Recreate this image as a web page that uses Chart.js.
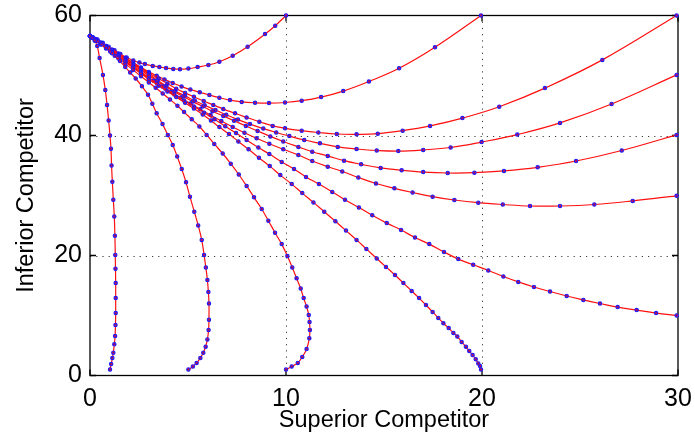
<!DOCTYPE html>
<html>
<head>
<meta charset="utf-8">
<title>Competition phase plane</title>
<script src="https://cdn.jsdelivr.net/npm/chart.js@4.4.1/dist/chart.umd.min.js"></script>
<style>
  html, body { margin: 0; padding: 0; background: #fff; }
  canvas { display: block; }
</style>
</head>
<body>
<canvas id="phaseChart" width="695" height="439"></canvas>
<script>
// axis ticks
const xTicks = [0, 10, 20, 30];
const yTicks = [0, 20, 40, 60];

// trajectories, [superior, inferior], from the initial state towards the equilibrium
const trajA = [[1.02,1.0],[1.08,1.9],[1.14,2.9],[1.19,3.8],[1.24,5.2],[1.28,6.6],[1.30,8.4],[1.31,10.4],[1.31,12.9],[1.31,15.4],[1.30,17.8],[1.29,20.1],[1.27,23.3],[1.24,26.5],[1.19,29.3],[1.14,32.3],[1.10,35.0],[1.07,37.8],[1.02,40.0],[0.95,42.5],[0.87,45.1],[0.78,47.6],[0.66,50.1],[0.49,52.9],[0.37,54.9],[0.24,55.8],[0.1,56.3],[0,56.6]];
const trajB = [[5.02,1.0],[5.25,1.5],[5.44,2.1],[5.63,2.9],[5.78,3.8],[5.9,4.8],[5.99,6.0],[6.05,7.6],[6.07,9.3],[6.07,12.0],[6.04,13.9],[5.99,15.9],[5.91,18.0],[5.82,20.1],[5.7,22.6],[5.52,25.0],[5.32,27.3],[5.1,29.8],[4.9,32.2],[4.68,34.4],[4.45,36.5],[4.22,38.4],[3.97,40.1],[3.7,41.9],[3.4,43.7],[3.18,45.3],[2.96,46.8],[2.65,48.2],[2.33,49.5],[2.05,50.5],[1.8,51.4],[1.53,52.4],[1.26,53.3],[1.03,54.0],[0.83,54.6],[0.6,55.2],[0.41,55.7],[0.2,56.15],[0,56.6]];
const trajC = [[10.0,1.0],[10.29,1.5],[10.6,2.1],[10.83,3.1],[11.05,4.4],[11.19,6.2],[11.22,7.6],[11.2,8.9],[11.16,10.1],[11.05,11.5],[10.9,12.9],[10.75,14.5],[10.54,16.2],[10.32,18.0],[10.07,19.9],[9.78,21.9],[9.44,23.8],[9.1,25.8],[8.76,27.75],[8.37,29.7],[7.99,31.6],[7.59,33.5],[7.18,35.3],[6.77,37.0],[6.34,38.6],[5.95,40.1],[5.58,41.5],[5.19,42.7],[4.8,43.9],[4.46,44.95],[4.08,46.0],[3.71,47.0],[3.35,47.95],[3.0,48.85],[2.6,49.88],[2.2,50.92],[1.8,51.95],[1.45,52.85],[1.12,53.71],[0.82,54.48],[0.55,55.18],[0.3,55.83],[0.12,56.29],[0,56.6]];
const trajD = [[19.95,1.0],[19.9,1.6],[19.81,2.0],[19.68,2.7],[19.52,3.4],[19.35,4.1],[19.18,4.8],[18.96,5.6],[18.74,6.5],[18.54,7.1],[18.3,7.9],[18.03,8.7],[17.77,9.6],[17.48,10.6],[17.14,11.75],[16.79,12.9],[16.41,14.1],[15.99,15.4],[15.56,16.75],[15.1,18.1],[14.63,19.5],[14.1,21.1],[13.6,22.6],[13.06,24.15],[12.52,25.7],[11.95,27.3],[11.4,28.85],[10.83,30.4],[10.29,31.9],[9.71,33.4],[9.17,34.9],[8.62,36.3],[8.09,37.7],[7.57,39.0],[7.09,40.25],[6.6,41.4],[6.17,42.5],[5.75,43.5],[5.3,44.5],[4.85,45.45],[4.4,46.4],[3.95,47.35],[3.5,48.3],[3.0,49.35],[2.6,50.32],[2.2,51.28],[1.8,52.25],[1.45,53.1],[1.12,53.89],[0.82,54.62],[0.55,55.27],[0.3,55.88],[0.12,56.31],[0,56.6]];
const trajE = [[29.93,10.0],[28.88,10.4],[27.89,10.9],[26.92,11.4],[26.02,12.0],[25.17,12.6],[24.32,13.25],[23.47,14.0],[22.65,14.75],[21.85,15.6],[21.09,16.5],[20.32,17.5],[19.55,18.45],[18.79,19.4],[18.06,20.6],[17.31,21.9],[16.58,23.0],[15.87,24.25],[15.14,25.4],[14.4,26.7],[13.72,28.0],[13.01,29.3],[12.36,30.6],[11.68,31.9],[11.02,33.1],[10.41,34.4],[9.78,35.6],[9.15,36.9],[8.59,38.0],[7.99,39.25],[7.45,40.4],[6.9,41.55],[6.35,42.7],[5.82,43.8],[5.3,44.85],[4.8,45.85],[4.3,46.85],[3.85,47.8],[3.42,48.7],[3.0,49.55],[2.6,50.49],[2.2,51.43],[1.8,52.37],[1.45,53.19],[1.12,53.97],[0.82,54.67],[0.55,55.31],[0.3,55.9],[0.12,56.32],[0,56.6]];
const trajF = [[29.93,29.95],[27.69,29.1],[25.73,28.5],[23.98,28.25],[22.45,28.25],[21.06,28.5],[19.81,28.8],[18.59,29.25],[17.48,29.8],[16.46,30.5],[15.53,31.2],[14.59,32.0],[13.69,33.0],[12.87,34.0],[12.13,34.8],[11.34,35.75],[10.63,36.75],[9.86,37.7],[9.15,38.62],[8.5,39.53],[7.88,40.46],[7.28,41.42],[6.7,42.41],[6.15,43.4],[5.62,44.38],[5.12,45.33],[4.63,46.29],[4.15,47.25],[3.7,48.17],[3.25,49.12],[2.6,50.62],[2.2,51.54],[1.8,52.46],[1.45,53.27],[1.12,54.02],[0.82,54.71],[0.55,55.33],[0.3,55.91],[0.12,56.32],[0,56.6]];
const trajG = [[29.93,40.1],[27.13,37.5],[24.8,35.75],[22.84,34.7],[21.12,34.1],[19.61,33.8],[18.25,33.75],[17.0,33.9],[15.9,34.2],[14.83,34.6],[13.83,35.2],[12.96,35.8],[12.13,36.6],[11.34,37.3],[10.63,38.1],[9.86,39.0],[9.2,39.85],[8.55,40.75],[7.95,41.6],[7.35,42.45],[6.8,43.25],[6.25,44.05],[5.75,44.85],[5.25,45.65],[4.75,46.5],[4.3,47.3],[3.85,48.15],[3.4,49.1],[3.0,50.0],[2.6,50.88],[2.2,51.76],[1.8,52.64],[1.45,53.41],[1.12,54.14],[0.82,54.8],[0.55,55.39],[0.3,55.94],[0.12,56.34],[0,56.6]];
const trajH = [[29.93,50.1],[26.61,45.25],[23.98,42.1],[21.8,40.15],[19.98,38.9],[18.4,38.0],[17.0,37.6],[15.73,37.4],[14.63,37.5],[13.6,37.75],[12.64,38.1],[11.73,38.7],[10.93,39.25],[10.17,39.9],[9.5,40.5],[8.84,41.15],[8.16,41.9],[7.55,42.65],[6.95,43.45],[6.4,44.25],[5.85,45.05],[5.35,45.8],[4.85,46.6],[4.35,47.4],[3.9,48.25],[3.45,49.2],[3.0,50.2],[2.6,51.05],[2.2,51.91],[1.8,52.76],[1.45,53.51],[1.12,54.21],[0.82,54.85],[0.55,55.43],[0.3,55.96],[0.12,56.34],[0,56.6]];
const trajI = [[29.93,60],[26.14,52.6],[23.21,47.9],[20.88,44.8],[19.0,42.9],[17.35,41.6],[15.95,40.8],[14.68,40.3],[13.6,40.2],[12.59,40.25],[11.65,40.5],[10.8,40.8],[9.95,41.2],[9.32,41.6],[8.64,42.3],[7.99,43.0],[7.4,43.7],[6.8,44.4],[6.29,45.1],[5.8,45.75],[5.3,46.45],[4.85,47.1],[4.4,47.8],[3.95,48.65],[3.5,49.5],[3.0,50.4],[2.6,51.23],[2.2,52.05],[1.8,52.88],[1.45,53.6],[1.12,54.29],[0.82,54.91],[0.55,55.46],[0.3,55.98],[0.12,56.35],[0,56.6]];
const trajJ = [[19.95,60],[17.6,54.7],[15.77,51.2],[14.23,49.0],[12.92,47.4],[11.79,46.4],[10.8,45.8],[9.95,45.5],[9.13,45.4],[8.42,45.45],[7.74,45.6],[7.14,45.9],[6.6,46.3],[6.09,46.75],[5.6,47.2],[5.12,47.65],[4.67,48.15],[4.22,48.75],[3.8,49.35],[3.4,49.95],[3.0,50.6],[2.6,51.35],[2.2,52.15],[1.8,52.95],[1.45,53.65],[1.12,54.3],[0.82,54.9],[0.55,55.45],[0.3,55.98],[0.12,56.35],[0,56.6]];
const trajK = [[10,60],[9.45,58.3],[8.93,56.9],[8.04,54.8],[7.28,53.3],[6.6,52.3],[6.04,51.75],[5.49,51.4],[5.02,51.15],[4.59,51.05],[4.25,51.1],[3.88,51.25],[3.54,51.4],[3.2,51.6],[2.8,51.9],[2.52,52.15],[2.21,52.5],[1.87,53.0],[1.55,53.6],[1.25,54.2],[0.95,54.8],[0.65,55.45],[0.38,56.0],[0.15,56.35],[0,56.6]];

const trajectories = [trajA, trajB, trajC, trajD, trajE, trajF, trajG, trajH, trajI, trajJ, trajK];

const FONT = "'Liberation Sans', Arial, Helvetica, sans-serif";

// dotted grid, closed box and inward tick marks, matlab style
const axesBox = {
  id: "axesBox",
  beforeDatasetsDraw(chart) {
    const { ctx, chartArea: a, scales: { x, y } } = chart;
    ctx.save();
    ctx.strokeStyle = "#3a3a3a";
    ctx.lineWidth = 1;
    ctx.setLineDash([1.2, 5]);
    xTicks.slice(1, -1).forEach(v => {
      const px = Math.round(x.getPixelForValue(v)) + 0.5;
      ctx.beginPath();
      ctx.moveTo(px, a.top);
      ctx.lineTo(px, a.bottom);
      ctx.stroke();
    });
    yTicks.slice(1, -1).forEach(v => {
      const py = Math.round(y.getPixelForValue(v)) + 0.5;
      ctx.beginPath();
      ctx.moveTo(a.left, py);
      ctx.lineTo(a.right, py);
      ctx.stroke();
    });
    ctx.setLineDash([]);
    ctx.strokeStyle = "#000";
    ctx.lineWidth = 1.3;
    ctx.strokeRect(a.left, a.top, a.right - a.left, a.bottom - a.top);
    const len = 6;
    ctx.beginPath();
    xTicks.forEach(v => {
      const px = x.getPixelForValue(v);
      ctx.moveTo(px, a.bottom); ctx.lineTo(px, a.bottom - len);
      ctx.moveTo(px, a.top); ctx.lineTo(px, a.top + len);
    });
    yTicks.forEach(v => {
      const py = y.getPixelForValue(v);
      ctx.moveTo(a.left, py); ctx.lineTo(a.left + len, py);
      ctx.moveTo(a.right, py); ctx.lineTo(a.right - len, py);
    });
    ctx.stroke();
    ctx.restore();
  }
};

new Chart(document.getElementById("phaseChart").getContext("2d"), {
  type: "scatter",
  data: {
    datasets: trajectories.map(t => ({
      data: t.map(([x, y]) => ({ x, y })),
      showLine: true,
      borderColor: "#ff1010",
      borderWidth: 1.2,
      tension: 0.4,
      pointRadius: 1.7,
      pointBackgroundColor: "#b0105a",
      pointBorderColor: "#1c1cff",
      pointBorderWidth: 1.1,
      clip: 6
    }))
  },
  options: {
    responsive: false,
    animation: false,
    events: [],
    layout: { padding: { left: 0, top: 15.5, right: 17, bottom: 0 } },
    plugins: { legend: { display: false }, tooltip: { enabled: false } },
    scales: {
      x: {
        type: "linear",
        min: 0,
        max: 30,
        afterBuildTicks: s => { s.ticks = xTicks.map(v => ({ value: v })); },
        afterFit: s => { s.height = 63.5; s.paddingLeft = 0; s.paddingRight = 0; },
        grid: { display: false, drawTicks: false },
        border: { display: false },
        ticks: { color: "#000", padding: 9, maxRotation: 0, font: { family: FONT, size: 25 } },
        title: { display: true, text: "Superior Competitor", color: "#000", padding: { top: 0, bottom: 4 }, font: { family: FONT, size: 23.5 } }
      },
      y: {
        type: "linear",
        min: 0,
        max: 60,
        afterBuildTicks: s => { s.ticks = yTicks.map(v => ({ value: v })); },
        afterFit: s => { s.width = 90; s.paddingTop = 0; s.paddingBottom = 0; },
        grid: { display: false, drawTicks: false },
        border: { display: false },
        ticks: { color: "#000", padding: 8, font: { family: FONT, size: 25 } },
        title: { display: true, text: "Inferior Competitor", color: "#000", padding: { top: 12, bottom: 0 }, font: { family: FONT, size: 23.5 } }
      }
    }
  },
  plugins: [axesBox]
});
</script>
</body>
</html>
